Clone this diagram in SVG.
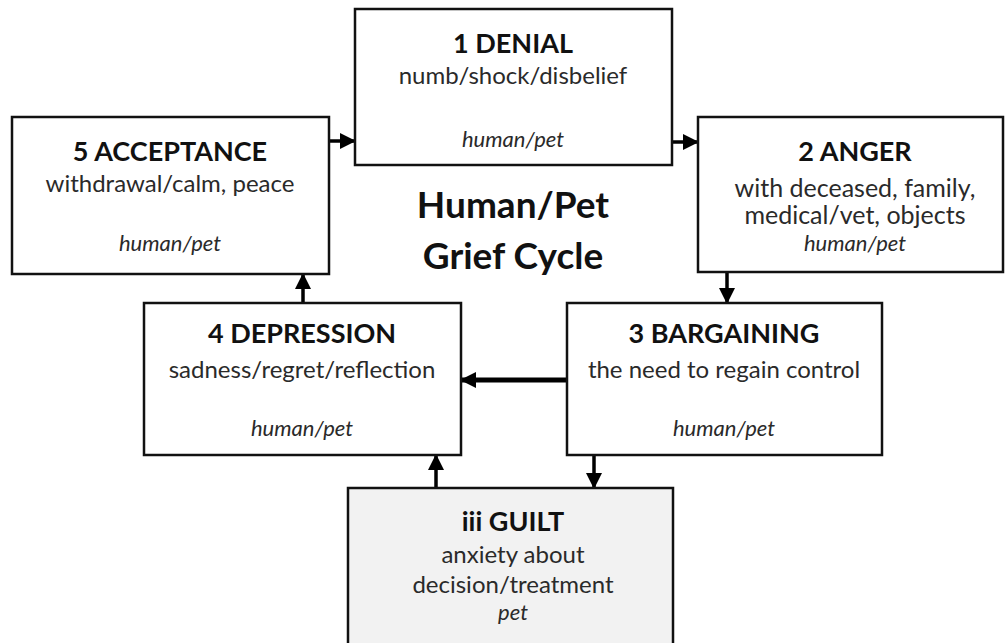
<svg xmlns="http://www.w3.org/2000/svg" width="1006" height="643" viewBox="0 0 1006 643">
<defs>
<marker id="ah" markerUnits="userSpaceOnUse" markerWidth="16" markerHeight="16" refX="15" refY="8" orient="auto">
<path d="M0,0 L16,8 L0,16 Z" fill="#000"/>
</marker>
<style>
.box{fill:#fff;stroke:#111;stroke-width:2.5}
.g{fill:#f2f2f2}
.t{font-family:Lato,"Open Sans",sans-serif;text-anchor:middle}
.h{font-size:27px;font-weight:bold;fill:#111}
.s{font-size:24px;fill:#2a2a2a}
.i{font-size:22px;font-style:italic;fill:#2a2a2a}
.ttl{font-size:37px;font-weight:bold;fill:#111}
.c{stroke:#000;stroke-width:3.5;fill:none;marker-end:url(#ah)}
</style>
</defs>
<rect width="1006" height="643" fill="#fff"/>
<g id="connectors">
<line class="c" x1="329" y1="141" x2="355" y2="141"/>
<line class="c" x1="672" y1="142" x2="698" y2="142"/>
<line class="c" x1="727" y1="272" x2="727" y2="303"/>
<line class="c" x1="567" y1="380" x2="461" y2="380" style="stroke-width:5"/>
<line class="c" x1="303" y1="303" x2="303" y2="274"/>
<line class="c" x1="594" y1="455" x2="594" y2="488"/>
<line class="c" x1="436" y1="488" x2="436" y2="455"/>
</g>
<g id="acceptance">
<rect class="box" x="12" y="117" width="317" height="157"/>
<text class="t h" x="170" y="161">5 ACCEPTANCE</text>
<text class="t s" x="170" y="192">withdrawal/calm, peace</text>
<text class="t i" x="170" y="251">human/pet</text>
</g>
<g id="denial">
<rect class="box" x="355" y="9" width="317" height="156"/>
<text class="t h" x="513" y="53">1 DENIAL</text>
<text class="t s" x="513" y="84">numb/shock/disbelief</text>
<text class="t i" x="513" y="147">human/pet</text>
</g>
<g id="anger">
<rect class="box" x="698" y="117" width="305" height="155"/>
<text class="t h" x="855" y="161">2 ANGER</text>
<text class="t s" x="855" y="197" style="font-size:25px">with deceased, family,</text>
<text class="t s" x="855" y="224" style="font-size:25px">medical/vet, objects</text>
<text class="t i" x="855" y="251">human/pet</text>
</g>
<g id="title">
<text class="t ttl" x="513" y="218">Human/Pet</text>
<text class="t ttl" x="513" y="269">Grief Cycle</text>
</g>
<g id="depression">
<rect class="box" x="144" y="303" width="317" height="152"/>
<text class="t h" x="302" y="343">4 DEPRESSION</text>
<text class="t s" x="302" y="378">sadness/regret/reflection</text>
<text class="t i" x="302" y="436">human/pet</text>
</g>
<g id="bargaining">
<rect class="box" x="567" y="303" width="315" height="152"/>
<text class="t h" x="724" y="343">3 BARGAINING</text>
<text class="t s" x="724" y="378">the need to regain control</text>
<text class="t i" x="724" y="436">human/pet</text>
</g>
<g id="guilt">
<rect class="box g" x="348" y="488" width="325" height="160"/>
<text class="t h" x="513" y="531">iii GUILT</text>
<text class="t s" x="513" y="563">anxiety about</text>
<text class="t s" x="513" y="593">decision/treatment</text>
<text class="t i" x="513" y="620">pet</text>
</g>
</svg>
